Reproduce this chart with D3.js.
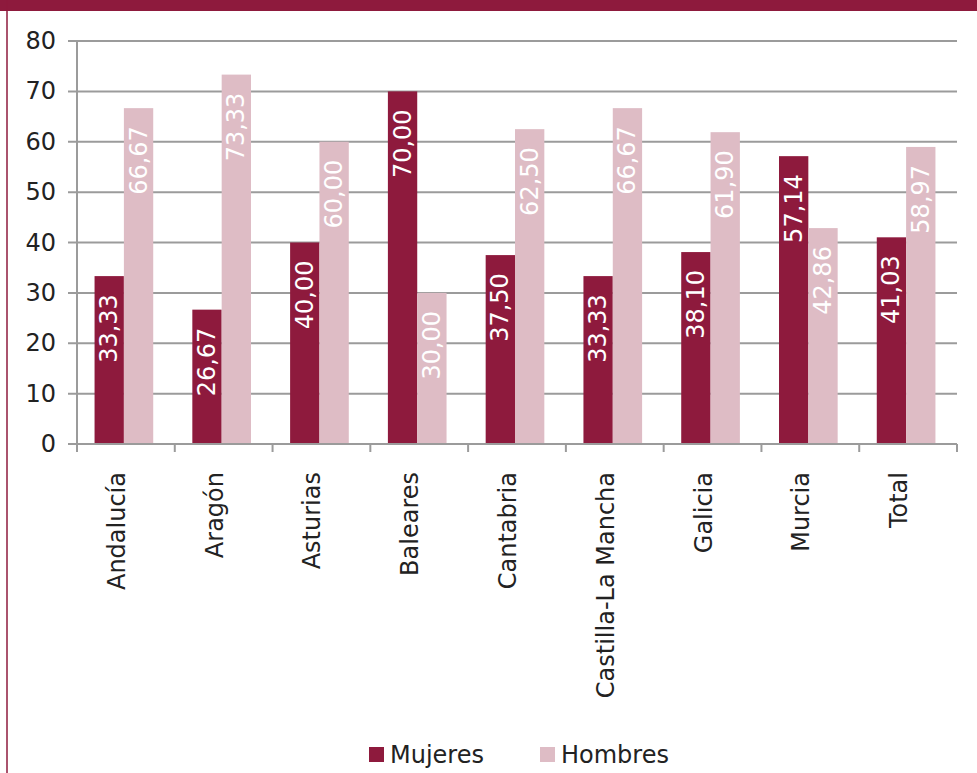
<!DOCTYPE html>
<html>
<head>
<meta charset="utf-8">
<script src="https://cdn.jsdelivr.net/npm/d3@7"></script>
<style>
  html, body { margin: 0; padding: 0; background: #fff; }
  svg { display: block; }
  text { font-family: "DejaVu Sans", Verdana, sans-serif; }
</style>
</head>
<body>
<script>
const categories = ["Andalucía", "Aragón", "Asturias", "Baleares", "Cantabria", "Castilla-La Mancha", "Galicia", "Murcia", "Total"];
const mujeres = [33.33, 26.67, 40.00, 70.00, 37.50, 33.33, 38.10, 57.14, 41.03];
const hombres = [66.67, 73.33, 60.00, 30.00, 62.50, 66.67, 61.90, 42.86, 58.97];
const seriesNames = ["Mujeres", "Hombres"];
const yTicks = [0, 10, 20, 30, 40, 50, 60, 70, 80];

const W = 977, H = 773;
const maroon = "#8E1A3D", pink = "#DEBCC5", grid = "#9B9B9B";
const colors = [maroon, pink];

const svg = d3.select("body").append("svg").attr("width", W).attr("height", H);

// frame
svg.append("rect").attr("x", 0).attr("y", 0).attr("width", W).attr("height", 11).attr("fill", maroon);
svg.append("line").attr("x1", 7).attr("x2", 7).attr("y1", 0).attr("y2", H).attr("stroke", maroon).attr("stroke-width", 1.5);

const pLeft = 77, pRight = 957, pTop = 41, pBottom = 444;
const y = d3.scaleLinear().domain([0, 80]).range([pBottom, pTop]);
const x0 = d3.scaleBand().domain(categories).range([pLeft, pRight]).padding(0);
const x1 = d3.scaleBand().domain(seriesNames).range([0, x0.bandwidth() * 0.6]).padding(0);
const groupOffset = x0.bandwidth() * 0.2 - 2;

// gridlines
svg.append("g").selectAll("line").data(yTicks).join("line")
  .attr("x1", pLeft - 9).attr("x2", pRight)
  .attr("y1", d => y(d)).attr("y2", d => y(d))
  .attr("stroke", grid).attr("stroke-width", 2);

// y axis line
svg.append("line").attr("x1", pLeft).attr("x2", pLeft).attr("y1", pTop).attr("y2", pBottom)
  .attr("stroke", grid).attr("stroke-width", 2);

// y tick labels
svg.append("g").selectAll("text").data(yTicks).join("text")
  .attr("x", 56).attr("y", d => y(d))
  .attr("text-anchor", "end").attr("dominant-baseline", "central")
  .attr("font-size", 24).attr("fill", "#222")
  .text(d => d);

// bars
const data = categories.map((c, i) => ({ c, vals: [mujeres[i], hombres[i]] }));
const groups = svg.append("g").selectAll("g").data(data).join("g")
  .attr("transform", d => `translate(${x0(d.c) + groupOffset},0)`);

groups.selectAll("rect").data(d => d.vals.map((v, k) => ({ v, k }))).join("rect")
  .attr("x", d => x1(seriesNames[d.k]))
  .attr("width", x1.bandwidth())
  .attr("y", d => y(d.v))
  .attr("height", d => y(0) - y(d.v))
  .attr("fill", d => colors[d.k]);

// x axis line and ticks
svg.append("line").attr("x1", pLeft).attr("x2", pRight).attr("y1", pBottom).attr("y2", pBottom)
  .attr("stroke", grid).attr("stroke-width", 2);
const bounds = categories.map(c => x0(c)).concat([pRight]);
svg.append("g").selectAll("line").data(bounds).join("line")
  .attr("x1", d => d).attr("x2", d => d).attr("y1", pBottom).attr("y2", pBottom + 8)
  .attr("stroke", grid).attr("stroke-width", 2);

// value labels
const fmt = v => v.toFixed(2).replace(".", ",");
groups.selectAll("text").data(d => d.vals.map((v, k) => ({ v, k }))).join("text")
  .attr("transform", d => `translate(${x1(seriesNames[d.k]) + x1.bandwidth() / 2},${y(d.v) + 18}) rotate(-90)`)
  .attr("text-anchor", "end").attr("dominant-baseline", "central")
  .attr("font-size", 24).attr("fill", "#fff")
  .text(d => fmt(d.v));

// category labels
svg.append("g").selectAll("text").data(categories).join("text")
  .attr("transform", c => `translate(${x0(c) + x0.bandwidth() / 2 - 9},472) rotate(-90)`)
  .attr("text-anchor", "end").attr("dominant-baseline", "central")
  .attr("font-size", 24).attr("fill", "#222")
  .text(c => c);

// legend
const legX = [369, 540];
const leg = svg.append("g").selectAll("g").data(seriesNames).join("g")
  .attr("transform", (d, i) => `translate(${legX[i]},747)`);
leg.append("rect").attr("width", 15).attr("height", 15).attr("fill", (d, i) => colors[i]);
leg.append("text").attr("x", 21).attr("y", 16).attr("font-size", 24).attr("fill", "#222").text(d => d);
</script>
</body>
</html>
